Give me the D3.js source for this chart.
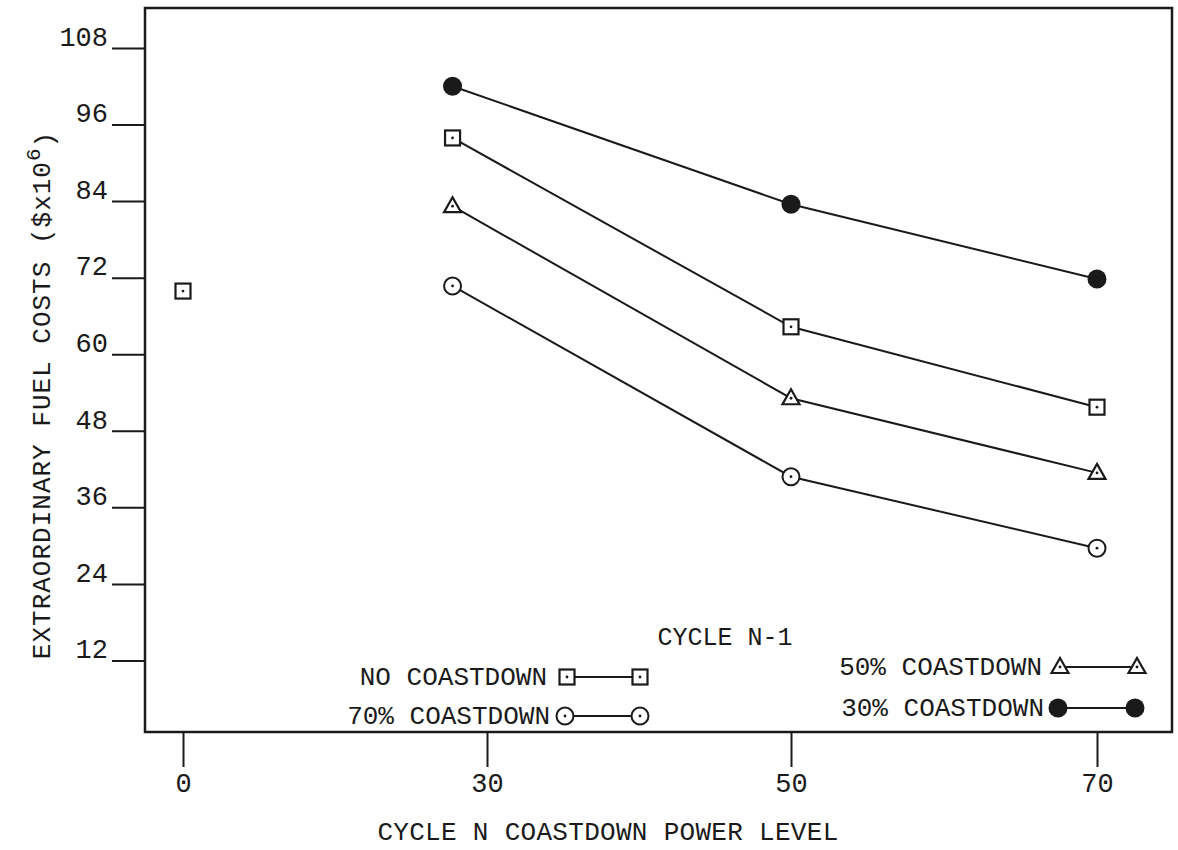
<!DOCTYPE html>
<html>
<head>
<meta charset="utf-8">
<script src="https://cdn.jsdelivr.net/npm/d3@7"></script>
<style>
  body { margin: 0; background: #fff; }
  text { font-family: "Liberation Mono", monospace; fill: #1a1a1a; }
</style>
</head>
<body>
<div id="chart"></div>
<script>
(function(){
    var width = 1178,
        height = 850;

    // power levels (x) and costs in $x10^6 (y)
    var powerLevels = [26.6, 50, 70];
    var noCoastdown = [93.9, 64.3, 51.7];
    var coast50 = [83.2, 53.1, 41.4];
    var coast70 = [70.7, 40.8, 29.6];
    var coast30 = [102, 83.5, 71.8];
    var basePoint = [0, 69.9];

    var xTicks = [0, 30, 50, 70];
    var yTicks = [12, 24, 36, 48, 60, 72, 84, 96, 108];

    var series = [
        { name: "NO COASTDOWN", shape: "square", values: noCoastdown },
        { name: "50% COASTDOWN", shape: "triangle", values: coast50 },
        { name: "70% COASTDOWN", shape: "circle", values: coast70 },
        { name: "30% COASTDOWN", shape: "dot", values: coast30 }
    ];

    var left = 145, right = 1172, top = 8, bottom = 732;
    var ink = "#1a1a1a";

    var svg = d3.select("#chart")
        .append("svg")
        .attr("width", width)
        .attr("height", height);

    // axis break: 0 is spaced like the other levels
    var x = d3.scaleLinear().domain([0, 30, 50, 70]).range([183, 487, 791, 1097]);
    var y = d3.scaleLinear().domain([0, 108]).range([737, 48]);

    // frame
    svg.append("rect")
        .attr("x", left).attr("y", top)
        .attr("width", right - left).attr("height", bottom - top)
        .attr("fill", "none").attr("stroke", ink).attr("stroke-width", 2.5);

    var yAxis = svg.append("g")
        .attr("transform", "translate(" + left + ",0)")
        .call(d3.axisLeft(y).tickValues(yTicks).tickSize(33).tickPadding(4));
    yAxis.select(".domain").remove();
    yAxis.selectAll("line").attr("stroke", ink).attr("stroke-width", 2);
    yAxis.selectAll("text")
        .attr("dy", "-0.1em")
        .style("font-size", "27px")
        .attr("fill", ink);

    var xAxis = svg.append("g")
        .attr("transform", "translate(0," + bottom + ")")
        .call(d3.axisBottom(x).tickValues(xTicks).tickSize(35).tickPadding(6));
    xAxis.select(".domain").remove();
    xAxis.selectAll("line").attr("stroke", ink).attr("stroke-width", 2);
    xAxis.selectAll("text")
        .style("font-size", "27px")
        .attr("fill", ink);

    // axis titles
    svg.append("text")
        .attr("x", 608).attr("y", 840)
        .attr("text-anchor", "middle")
        .style("font-size", "26px")
        .style("letter-spacing", "0.3px")
        .text("CYCLE N COASTDOWN POWER LEVEL");

    var yTitle = svg.append("text")
        .attr("transform", "translate(50,395) rotate(-90)")
        .attr("text-anchor", "middle")
        .style("font-size", "26px")
        .style("letter-spacing", "1px");
    yTitle.append("tspan").text("EXTRAORDINARY FUEL COSTS ($x10");
    yTitle.append("tspan").attr("dy", "-0.5em").style("font-size", "21px").text("6");
    yTitle.append("tspan").attr("dy", "0.5em").text(")");

    var line = d3.line()
        .x(function(d){ return x(d[0]) })
        .y(function(d){ return y(d[1]) });

    function marker(g, shape) {
        if (shape === "square") {
            g.append("rect").attr("x", -7.5).attr("y", -7.5).attr("width", 15).attr("height", 15)
                .attr("fill", "#fff").attr("stroke", ink).attr("stroke-width", 2.2);
        } else if (shape === "triangle") {
            g.append("path").attr("d", "M0,-9L8.5,6L-8.5,6Z")
                .attr("fill", "#fff").attr("stroke", ink).attr("stroke-width", 2.2);
        } else if (shape === "circle") {
            g.append("circle").attr("r", 8.5)
                .attr("fill", "#fff").attr("stroke", ink).attr("stroke-width", 2);
        } else {
            g.append("circle").attr("r", 9.5).attr("fill", ink);
            return;
        }
        g.append("circle").attr("r", 1.4).attr("fill", ink);
    }

    series.forEach(function(s){
        var pts = s.values.map(function(v, i){ return [powerLevels[i], v] });
        svg.append("path")
            .datum(pts)
            .attr("d", line)
            .attr("fill", "none")
            .attr("stroke", ink)
            .attr("stroke-width", 2);
        svg.selectAll(null)
            .data(pts)
            .enter().append("g")
            .attr("transform", function(d){ return "translate(" + x(d[0]) + "," + y(d[1]) + ")" })
            .each(function(){ marker(d3.select(this), s.shape) });
    });

    // lone point at level 0
    marker(svg.append("g")
        .attr("transform", "translate(" + x(basePoint[0]) + "," + y(basePoint[1]) + ")"), "square");

    // legend
    svg.append("text")
        .attr("x", 725).attr("y", 645)
        .attr("text-anchor", "middle")
        .style("font-size", "25px")
        .text("CYCLE N-1");

    var legendPos = [
        { x1: 567, x2: 640, y: 677, tx: 547 },
        { x1: 1060, x2: 1137, y: 667, tx: 1042 },
        { x1: 565, x2: 640, y: 716, tx: 550 },
        { x1: 1058, x2: 1135, y: 708, tx: 1044 }
    ];

    series.forEach(function(s, i){
        var p = legendPos[i];
        svg.append("line")
            .attr("x1", p.x1).attr("x2", p.x2)
            .attr("y1", p.y).attr("y2", p.y)
            .attr("stroke", ink).attr("stroke-width", 2);
        marker(svg.append("g").attr("transform", "translate(" + p.x1 + "," + p.y + ")"), s.shape);
        marker(svg.append("g").attr("transform", "translate(" + p.x2 + "," + p.y + ")"), s.shape);
        svg.append("text")
            .attr("x", p.tx).attr("y", p.y + 8)
            .attr("text-anchor", "end")
            .style("font-size", "26px")
            .text(s.name);
    });
})();
</script>
</body>
</html>
